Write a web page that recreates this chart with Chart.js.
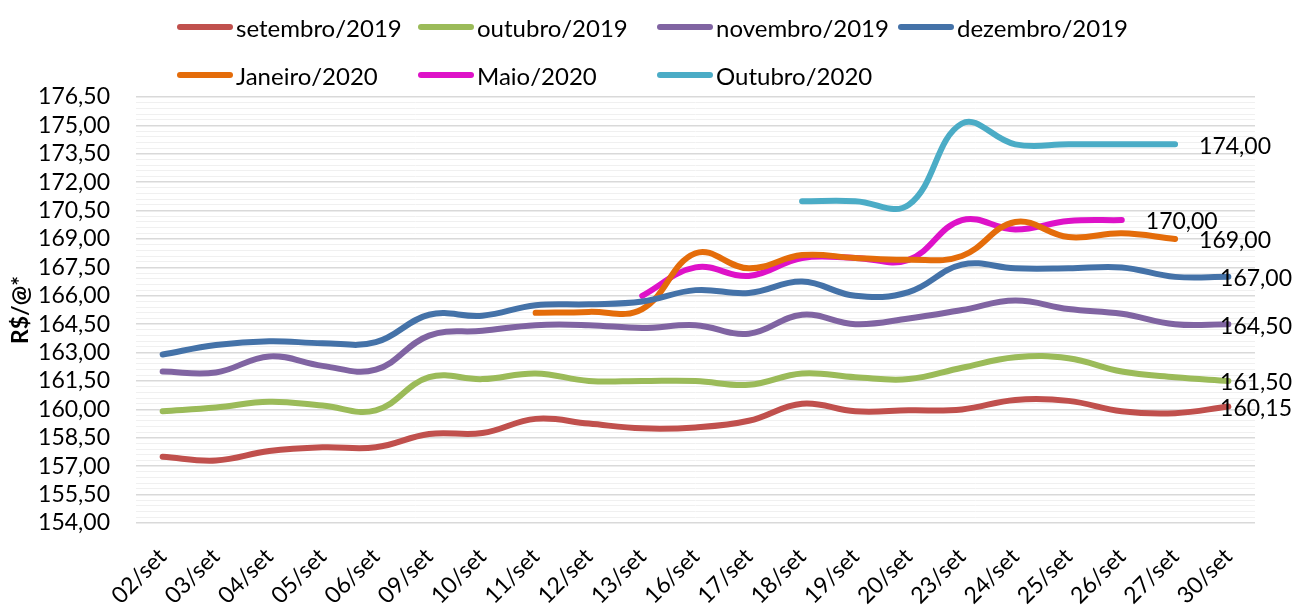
<!DOCTYPE html>
<html>
<head>
<meta charset="utf-8">
<script src="https://cdn.jsdelivr.net/npm/chart.js@4.4.1/dist/chart.umd.min.js"></script>
<style>
  html, body { margin: 0; padding: 0; background: #fff; }
  #wrap { position: relative; width: 1296px; height: 605px; }
  #chart { position: absolute; left: 0; top: 0; }
  .legend { position: absolute; left: 0; top: 0; width: 1296px; height: 97px; font-family: Lato, sans-serif; font-size: 24px; color: #000; }
  .legend-item { position: absolute; display: flex; align-items: center; height: 30px; white-space: nowrap; }
  .swatch { width: 56px; height: 6px; border-radius: 3px; margin-right: 3px; }
</style>
</head>
<body>
<div id="wrap">
  <canvas id="chart" width="1296" height="605"></canvas>
  <div class="legend" id="legend"></div>
</div>
<script>
const labels = ['02/set', '03/set', '04/set', '05/set', '06/set', '09/set', '10/set', '11/set', '12/set', '13/set',
  '16/set', '17/set', '18/set', '19/set', '20/set', '23/set', '24/set', '25/set', '26/set', '27/set', '30/set']

const setembro2019 = [157.5, 157.3, 157.8, 158.0, 158.0, 158.7, 158.75, 159.5, 159.25, 159.0, 159.05,
  159.4, 160.3, 159.9, 159.95, 160.0, 160.5, 160.45, 159.9, 159.8, 160.15]
const outubro2019 = [159.9, 160.1, 160.4, 160.2, 159.95, 161.7, 161.6, 161.9, 161.5, 161.5, 161.5,
  161.3, 161.9, 161.7, 161.6, 162.2, 162.75, 162.7, 162.0, 161.7, 161.5]
const novembro2019 = [162.0, 161.95, 162.8, 162.3, 162.1, 163.9, 164.15, 164.45, 164.45, 164.3, 164.45,
  164.0, 165.0, 164.5, 164.8, 165.25, 165.75, 165.3, 165.05, 164.5, 164.5]
const dezembro2019 = [162.9, 163.4, 163.6, 163.5, 163.55, 165.0, 164.95, 165.5, 165.55, 165.7, 166.3,
  166.15, 166.75, 166.0, 166.2, 167.65, 167.45, 167.45, 167.5, 167.0, 167.0]
const janeiro2020 = [null, null, null, null, null, null, null, 165.1, 165.15, 165.3, 168.25,
  167.45, 168.15, 168.0, 167.9, 168.1, 169.9, 169.1, 169.3, 169.0, null]
const maio2020 = [null, null, null, null, null, null, null, null, null, 166.0, 167.5,
  167.05, 168.0, 168.0, 167.9, 170.0, 169.5, 169.95, 170.0, null, null]
const outubro2020 = [null, null, null, null, null, null, null, null, null, null, null,
  null, 171.0, 171.0, 170.8, 175.1, 174.0, 174.0, 174.0, 174.0, null]

const yMin = 154
const yMax = 176.5
const yMajorStep = 1.5

const series = [
  { label: 'setembro/2019', data: setembro2019, color: '#C0504D' },
  { label: 'outubro/2019', data: outubro2019, color: '#9BBB59' },
  { label: 'novembro/2019', data: novembro2019, color: '#8064A2' },
  { label: 'dezembro/2019', data: dezembro2019, color: '#4472A8' },
  { label: 'Janeiro/2020', data: janeiro2020, color: '#E46C0A' },
  { label: 'Maio/2020', data: maio2020, color: '#DE12C8' },
  { label: 'Outubro/2020', data: outubro2020, color: '#4BACC6' }
]

const FONT = 'Lato, sans-serif'
const fmt = (v) => v.toFixed(2).replace('.', ',')

// legend laid out in fixed columns like the original
const legendPos = [
  [177, 12], [418, 12], [657, 12], [898, 12],
  [177, 60], [418, 60], [657, 60]
]
const legendEl = document.getElementById('legend')
series.forEach((s, i) => {
  const item = document.createElement('div')
  item.className = 'legend-item'
  item.style.left = legendPos[i][0] + 'px'
  item.style.top = legendPos[i][1] + 'px'
  const sw = document.createElement('span')
  sw.className = 'swatch'
  sw.style.background = s.color
  const txt = document.createElement('span')
  txt.textContent = s.label
  item.appendChild(sw)
  item.appendChild(txt)
  legendEl.appendChild(item)
})

// value at the last point of every series
const endLabels = {
  id: 'endLabels',
  afterDatasetsDraw(chart) {
    const ctx = chart.ctx
    ctx.save()
    ctx.font = '23px ' + FONT
    ctx.fillStyle = '#000'
    ctx.textBaseline = 'middle'
    ctx.textAlign = 'left'
    chart.data.datasets.forEach((ds, di) => {
      let last = -1
      ds.data.forEach((v, i) => { if (v != null) last = i })
      if (last < 0) return
      const pt = chart.getDatasetMeta(di).data[last]
      const text = fmt(ds.data[last])
      const w = ctx.measureText(text).width
      const x = Math.min(pt.x + 24, chart.width - 4 - w)
      ctx.fillText(text, x, pt.y + 2)
    })
    ctx.restore()
  }
}

const isMajor = (v) => {
  const k = (v - yMin) / yMajorStep
  return Math.abs(k - Math.round(k)) < 1e-6
}

new Chart(document.getElementById('chart'), {
  type: 'line',
  data: {
    labels,
    datasets: series.map(s => ({
      label: s.label,
      data: s.data,
      borderColor: s.color,
      backgroundColor: s.color,
      borderWidth: 6,
      borderCapStyle: 'round',
      borderJoinStyle: 'round',
      pointRadius: 0,
      tension: 0.4,
      fill: false
    }))
  },
  options: {
    responsive: false,
    animation: false,
    layout: { padding: { top: 97, right: 41, bottom: 0, left: 0 } },
    plugins: {
      legend: { display: false },
      tooltip: { enabled: false }
    },
    scales: {
      x: {
        offset: true,
        grid: { display: false },
        border: { display: false },
        ticks: {
          color: '#000',
          font: { family: FONT, size: 23 },
          minRotation: 45,
          maxRotation: 45,
          autoSkip: false,
          padding: 12
        },
        afterFit: (scale) => { scale.height = 82 }
      },
      y: {
        min: yMin,
        max: yMax,
        border: { display: false },
        grid: {
          drawTicks: false,
          color: (c) => isMajor(c.tick.value) ? '#d9d9d9' : '#f0f0f0',
          lineWidth: (c) => isMajor(c.tick.value) ? 1.5 : 1
        },
        ticks: {
          stepSize: 0.3,
          autoSkip: false,
          color: '#000',
          font: { family: FONT, size: 23 },
          padding: 26,
          callback: (v) => isMajor(v) ? fmt(v) : ''
        },
        title: {
          display: true,
          text: 'R$/@*',
          color: '#000',
          font: { family: FONT, size: 23, weight: 'bold' },
          padding: { top: 7, bottom: 0 }
        },
        afterFit: (scale) => { scale.width = 136 }
      }
    }
  },
  plugins: [endLabels]
})
</script>
</body>
</html>
